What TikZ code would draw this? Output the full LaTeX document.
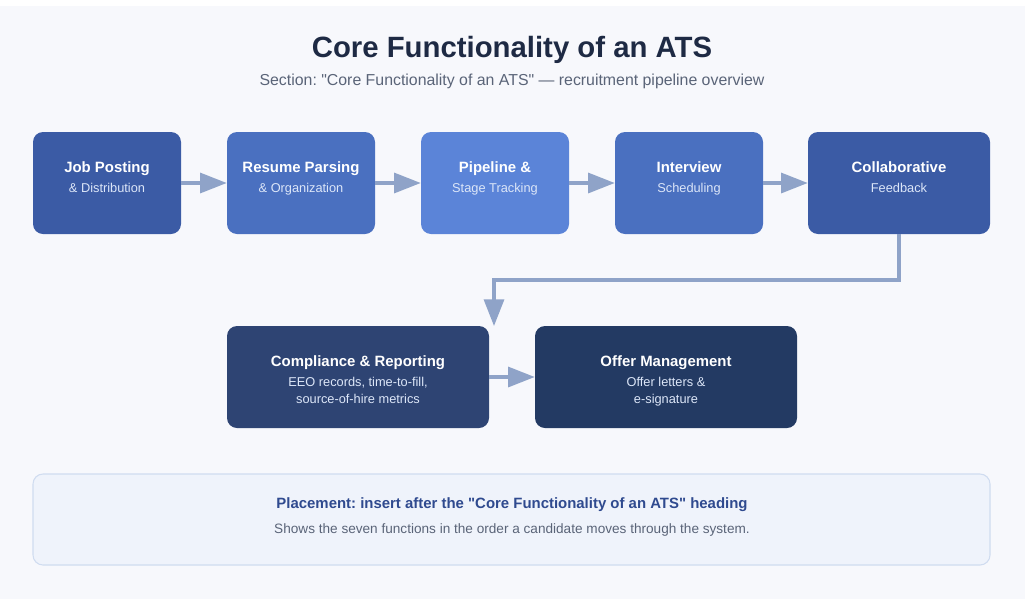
\documentclass[tikz,border=0pt]{standalone}
\usepackage{fontspec}
\setmainfont{Liberation Sans}[Ligatures=TeXOff]
\frenchspacing
\usetikzlibrary{arrows.meta}
\definecolor{bgc}{HTML}{F7F8FC}
\definecolor{cA}{HTML}{3B5BA5}
\definecolor{cB}{HTML}{4A70C0}
\definecolor{cC}{HTML}{5B84D8}
\definecolor{cD}{HTML}{2E4473}
\definecolor{cE}{HTML}{233A63}
\definecolor{arr}{HTML}{8FA3C8}
\definecolor{titc}{HTML}{1E2A44}
\definecolor{subc}{HTML}{5A6478}
\definecolor{subw}{HTML}{DCE6F8}
\definecolor{notefill}{HTML}{EFF3FB}
\definecolor{notedraw}{HTML}{D0DCF0}
\definecolor{notetit}{HTML}{2F4A8F}
\tikzset{
  px/.style={x=0.75pt,y=-0.75pt},
  stepbox/.style={rounded corners=7.5pt, draw=none, inner sep=0pt},
  btitle/.style={font=\fontsize{11.2}{13}\selectfont\bfseries, text=white, anchor=base},
  bsub/.style={font=\fontsize{9.6}{12}\selectfont, text=subw, anchor=base},
  flow/.style={draw=arr, line width=2.4pt, -{Triangle[length=20pt,width=15pt]}}
}
\begin{document}
\begin{tikzpicture}[px]
\useasboundingbox (0,0) rectangle (1025,611);
\fill[white] (0,0) rectangle (1025,611);
\fill[bgc] (0,6) rectangle (1025,599);
% title
\node[font=\fontsize{22}{26}\selectfont\bfseries, text=titc, anchor=base] (title) at (512,57) {Core Functionality of an ATS};
\node[font=\fontsize{11.9}{14}\selectfont, text=subc, anchor=base] (subtitle) at (512,85) {Section: "Core Functionality of an ATS" — recruitment pipeline overview};
% boxes row 1
\path[stepbox, fill=cA] (33,132) rectangle (181,234); \node[inner sep=0pt,minimum width=111pt,minimum height=76.5pt] (b1) at (107,183) {};
\path[stepbox, fill=cB] (227,132) rectangle (375,234); \node[inner sep=0pt,minimum width=111pt,minimum height=76.5pt] (b2) at (301,183) {};
\path[stepbox, fill=cC] (421,132) rectangle (569,234); \node[inner sep=0pt,minimum width=111pt,minimum height=76.5pt] (b3) at (495,183) {};
\path[stepbox, fill=cB] (615,132) rectangle (763,234); \node[inner sep=0pt,minimum width=111pt,minimum height=76.5pt] (b4) at (689,183) {};
\path[stepbox, fill=cA] (808,132) rectangle (990,234); \node[inner sep=0pt,minimum width=136.5pt,minimum height=76.5pt] (b5) at (899,183) {};
% row 2
\path[stepbox, fill=cD] (227,326) rectangle (489,428); \node[inner sep=0pt,minimum width=196.5pt,minimum height=76.5pt] (b6) at (358,377) {};
\path[stepbox, fill=cE] (535,326) rectangle (797,428); \node[inner sep=0pt,minimum width=196.5pt,minimum height=76.5pt] (b7) at (666,377) {};
% texts
\node[btitle] (t1) at (107,172) {Job Posting};
\node[bsub] (s1) at (107,192) {\& Distribution};
\node[btitle] (t2) at (301,172) {Resume Parsing};
\node[bsub] (s2) at (301,192) {\& Organization};
\node[btitle] (t3) at (495,172) {Pipeline \&};
\node[bsub] (s3) at (495,192) {Stage Tracking};
\node[btitle] (t4) at (689,172) {Interview};
\node[bsub] (s4) at (689,192) {Scheduling};
\node[btitle] (t5) at (899,172) {Collaborative};
\node[bsub] (s5) at (899,192) {Feedback};
\node[btitle] (t6) at (358,366) {Compliance \& Reporting};
\node[bsub] (s6a) at (358,386) {EEO records, time-to-fill,};
\node[bsub] (s6b) at (358,403) {source-of-hire metrics};
\node[btitle] (t7) at (666,366) {Offer Management};
\node[bsub] (s7a) at (666,386) {Offer letters \&};
\node[bsub] (s7b) at (666,403) {e-signature};
% arrows
\draw[flow] (b1.east) -- (b2.west);
\draw[flow] (b2.east) -- (b3.west);
\draw[flow] (b3.east) -- (b4.west);
\draw[flow] (b4.east) -- (b5.west);
\coordinate (c1) at (899,280);
\coordinate (c2) at (494,280);
\coordinate (c3) at (494,326);
\draw[flow, line join=miter] (b5.south) -- (c1) -- (c2) -- (c3);
\draw[flow] (b6.east) -- (b7.west);
% note
\path[rounded corners=7.5pt, fill=notefill, draw=notedraw, line width=0.8pt] (33,474) rectangle (990,565);
\node[inner sep=0pt,minimum width=717pt,minimum height=68pt] (note) at (511.5,519.5) {};
\node[font=\fontsize{11.2}{14}\selectfont\bfseries, text=notetit, anchor=base] (nt) at (512,508) {Placement: insert after the "Core Functionality of an ATS" heading};
\node[font=\fontsize{10.2}{12}\selectfont, text=subc, anchor=base] (ns) at (512,533) {Shows the seven functions in the order a candidate moves through the system.};
\end{tikzpicture}
\end{document}
